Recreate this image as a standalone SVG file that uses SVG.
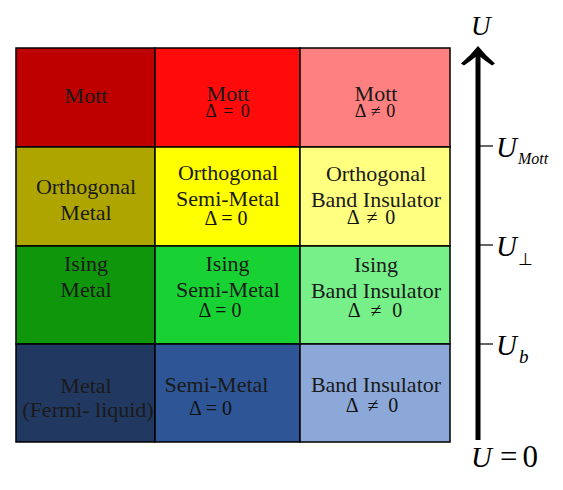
<svg xmlns="http://www.w3.org/2000/svg" width="563" height="490" viewBox="0 0 563 490">
<style>
.cell{stroke:#000;stroke-width:1.5}
.t{font-family:"Liberation Serif","Times New Roman",serif;font-size:22px;fill:#1a1a1a;text-anchor:middle}
.d{font-family:"Liberation Serif","Times New Roman",serif;font-size:20px;fill:#111;text-anchor:middle}
.ds{font-family:"Liberation Serif","Times New Roman",serif;font-size:18px;fill:#111;text-anchor:middle}
.u{font-family:"Liberation Serif","Times New Roman",serif;font-style:italic;fill:#000}
.n{font-family:"Liberation Serif","Times New Roman",serif;fill:#000}
</style>
<rect width="563" height="490" fill="#fff"/>
<g id="mott-metal"><rect class="cell" x="16" y="48" width="139" height="99" fill="#BE0000"/><text class="t" x="86" y="103">Mott</text></g>
<g id="mott-semimetal"><rect class="cell" x="155" y="48" width="145" height="99" fill="#FF0B0B"/><text class="t" x="228" y="100.5">Mott</text><text class="ds" x="227.5" y="117" word-spacing="3">Δ = 0</text></g>
<g id="mott-band"><rect class="cell" x="300" y="48" width="150" height="99" fill="#FF8080"/><text class="t" x="376" y="100.5">Mott</text><text class="ds" x="375" y="117" word-spacing="1">Δ ≠ 0</text></g>
<g id="orth-metal"><rect class="cell" x="16" y="147" width="139" height="99" fill="#AFA500"/><text class="t" x="86" y="194">Orthogonal</text><text class="t" x="86" y="220">Metal</text></g>
<g id="orth-semimetal"><rect class="cell" x="155" y="147" width="145" height="99" fill="#FFFF00"/><text class="t" x="228" y="180">Orthogonal</text><text class="t" x="228" y="206">Semi-Metal</text><text class="d" x="226" y="224.5">Δ = 0</text></g>
<g id="orth-band"><rect class="cell" x="300" y="147" width="150" height="99" fill="#FFFF80"/><text class="t" x="376" y="180.5">Orthogonal</text><text class="t" x="376" y="206.5">Band Insulator</text><text class="d" x="371" y="224" word-spacing="3">Δ ≠ 0</text></g>
<g id="ising-metal"><rect class="cell" x="16" y="246" width="139" height="98" fill="#0F960A"/><text class="t" x="86" y="271">Ising</text><text class="t" x="86" y="297">Metal</text></g>
<g id="ising-semimetal"><rect class="cell" x="155" y="246" width="145" height="98" fill="#18D234"/><text class="t" x="227.5" y="271">Ising</text><text class="t" x="228" y="297">Semi-Metal</text><text class="d" x="220" y="316.5">Δ = 0</text></g>
<g id="ising-band"><rect class="cell" x="300" y="246" width="150" height="98" fill="#78F08A"/><text class="t" x="376" y="271.5">Ising</text><text class="t" x="376" y="298">Band Insulator</text><text class="d" x="375" y="316.5" word-spacing="6">Δ ≠ 0</text></g>
<g id="fermi-metal"><rect class="cell" x="16" y="344" width="139" height="98" fill="#213860"/><text class="t" x="86" y="392.5" fill="#222">Metal</text><text class="t" x="88" y="416.5" fill="#222">(Fermi- liquid)</text></g>
<g id="semimetal"><rect class="cell" x="155" y="344" width="145" height="98" fill="#2E5596"/><text class="t" x="216.5" y="391.5">Semi-Metal</text><text class="d" x="210.5" y="415">Δ = 0</text></g>
<g id="band"><rect class="cell" x="300" y="344" width="150" height="98" fill="#8CA8D8"/><text class="t" x="376" y="391.5">Band Insulator</text><text class="d" x="372" y="411.5" word-spacing="5">Δ ≠ 0</text></g>
<g id="connectors">
<line x1="478" y1="440" x2="478" y2="54" stroke="#000" stroke-width="5"/>
<path d="M478,46 Q470,56 461,63.5 L464,65.5 Q472,60 478,55 Q484,60 492,65.5 L495,63.5 Q486,56 478,46 Z" fill="#000"/>
<line x1="480" y1="146" x2="493" y2="146" stroke="#000" stroke-width="1.2"/>
<line x1="480" y1="245" x2="493" y2="245" stroke="#000" stroke-width="1.2"/>
<line x1="480" y1="344" x2="493" y2="344" stroke="#000" stroke-width="1.2"/>
</g>
<g id="axis-labels">
<text class="u" x="471" y="35" font-size="27">U</text>
<text class="u" x="496" y="156.5" font-size="29">U</text><text class="u" x="518" y="163.5" font-size="16">Mott</text>
<text class="u" x="496" y="256" font-size="29">U</text><text class="n" x="518" y="265" font-size="17" fill="#C0701C">⊥</text>
<text class="u" x="496" y="355" font-size="29">U</text><text class="u" x="519" y="363" font-size="19">b</text>
<text class="u" x="471" y="466.5" font-size="29">U</text><text class="n" x="500" y="466.5" font-size="31" textLength="38" lengthAdjust="spacing">=0</text>
</g>
</svg>
